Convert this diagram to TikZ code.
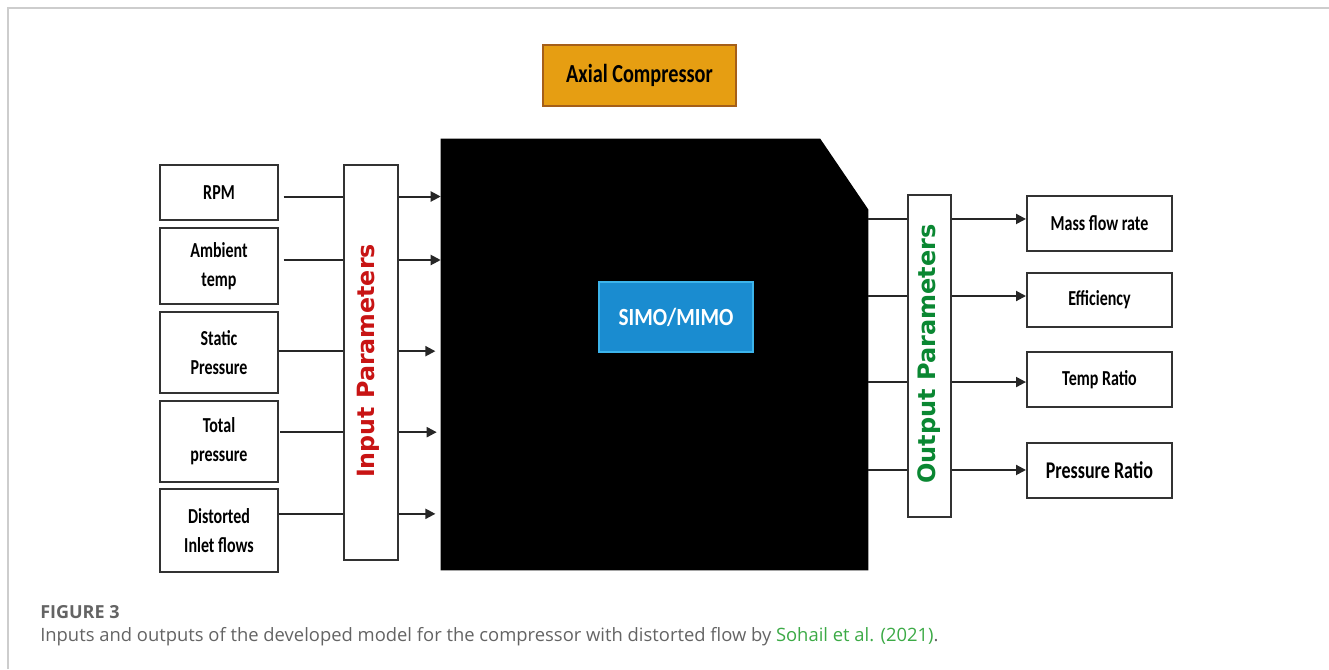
\documentclass[tikz,border=0pt]{standalone}
\usepackage{fontspec}
\usetikzlibrary{arrows.meta}
\newfontfamily\boxfont[FakeStretch=0.75]{Carlito}
\newfontfamily\titlefont[FakeStretch=0.78]{Carlito}
\newfontfamily\simofont[FakeStretch=0.86]{Carlito}
\newfontfamily\parfont{DejaVu Sans}
\newfontfamily\capfont{Open Sans}
\definecolor{boxline}{RGB}{50,50,50}
\definecolor{axfill}{RGB}{230,158,18}
\definecolor{axline}{RGB}{165,95,25}
\definecolor{simofill}{RGB}{26,140,208}
\definecolor{simoline}{RGB}{60,180,235}
\definecolor{inred}{RGB}{200,20,20}
\definecolor{outgreen}{RGB}{10,135,50}
\definecolor{capgray}{RGB}{100,100,100}
\definecolor{capgreen}{RGB}{60,170,70}
\definecolor{framegray}{RGB}{205,205,205}
\tikzset{
  pbox/.style={draw=boxline, line width=1.5pt, fill=white, inner sep=0pt, align=center,
    font=\boxfont\bfseries\fontsize{16}{22}\selectfont},
  pbar/.style={draw=boxline, line width=1.5pt, fill=white, inner sep=0pt},
  conn/.style={draw=black!85, line width=1.5pt},
  arr/.style={conn, -{Triangle[length=7.5pt,width=7.5pt]}},
}
\begin{document}
\begin{tikzpicture}[x=0.75pt,y=-0.75pt]
\useasboundingbox (0,0) rectangle (1329,669);
% frame
\draw[framegray, line width=1.2pt] (8,669) -- (8,8) -- (1329,8);

% title box
\node[draw=axline, line width=1.5pt, fill=axfill, minimum width={193*0.75pt}, minimum height={61*0.75pt},
  font=\titlefont\bfseries\fontsize{19.5}{22}\selectfont] (axial) at (639.5,75.5) {Axial Compressor};

% black model block
\node[minimum width={427*0.75pt}, minimum height={431*0.75pt}, inner sep=0pt] (blk) at (654.5,354.5) {};
\fill[black] (blk.south west) -- (blk.north west) -- ([xshift=-36pt]blk.north east)
  -- ([yshift=-53pt]blk.north east) -- (blk.south east) -- cycle;
\node[draw=simoline, line width=1.2pt, fill=simofill, text=white, minimum width={154*0.75pt}, minimum height={70*0.75pt},
  font=\simofont\bfseries\fontsize{18.5}{22}\selectfont] (simo) at (676,317) {SIMO/MIMO};

% input boxes
\node[pbox, minimum width={118*0.75pt}, minimum height={55*0.75pt}] (rpm) at (219,192.5) {RPM};
\node[pbox, minimum width={118*0.75pt}, minimum height={76*0.75pt}] (amb) at (219,266) {Ambient\\temp};
\node[pbox, minimum width={118*0.75pt}, minimum height={81*0.75pt}] (stat) at (219,352.5) {Static\\Pressure};
\node[pbox, minimum width={118*0.75pt}, minimum height={81*0.75pt}] (tot) at (219,441.5) {Total\\pressure};
\node[pbox, minimum width={118*0.75pt}, minimum height={83*0.75pt}] (dist) at (219,530.5) {Distorted\\Inlet flows};

% input bar
\node[pbar, minimum width={54*0.75pt}, minimum height={395*0.75pt}] (inbar) at (371,362.5) {};
\node[rotate=90, text=inred, font=\parfont\bfseries\fontsize{17.8}{20}\selectfont] (inlab) at (368,361) {Input Parameters};

% output bar
\node[pbar, minimum width={43*0.75pt}, minimum height={322*0.75pt}] (outbar) at (929.5,356) {};
\node[rotate=90, text=outgreen, font=\parfont\bfseries\fontsize{18}{20}\selectfont] (outlab) at (929.5,354) {Output Parameters};

% output boxes
\node[pbox, minimum width={145*0.75pt}, minimum height={55*0.75pt}] (mass) at (1099.5,223.5) {Mass flow rate};
\node[pbox, minimum width={145*0.75pt}, minimum height={54*0.75pt}] (eff) at (1099.5,300) {Efficiency};
\node[pbox, minimum width={145*0.75pt}, minimum height={55*0.75pt}] (temp) at (1099.5,379.5) {Temp Ratio};
\node[pbox, minimum width={145*0.75pt}, minimum height={55*0.75pt}, font=\boxfont\bfseries\fontsize{18}{22}\selectfont] (pres) at (1099.5,470.5) {Pressure Ratio};

% input connectors
\foreach \n/\dy/\gap/\sh in {rpm/-3/3.5/0pt, amb/4.5/3.5/0pt, stat/1/0/4pt, tot/7/1/3pt, dist/12.5/0/4pt}{
  \draw[conn] ([yshift=\dy pt, xshift=\gap pt]\n.east) -- ([yshift=\dy pt]\n.east -| inbar.west);
  \draw[arr, shorten >=\sh] ([yshift=\dy pt]\n.east -| inbar.east) -- ([yshift=\dy pt]\n.east -| blk.west);
}

% output connectors
\foreach \n/\dy in {mass/3.4, eff/3, temp/-1.9, pres/0.4}{
  \draw[conn] ([yshift=\dy pt]\n.west -| blk.east) -- ([yshift=\dy pt]\n.west -| outbar.west);
  \draw[arr] ([yshift=\dy pt]\n.west -| outbar.east) -- ([yshift=\dy pt]\n.west);
}

% caption
\node[anchor=base west, inner sep=0pt, text=capgray, font=\capfont\bfseries\fontsize{13.5}{15}\selectfont] (figlab) at (40,618) {FIGURE 3};
\node[anchor=base west, inner sep=0pt, text=capgray, font=\capfont\fontsize{13.8}{15}\selectfont] (cap) at (40,641)
  {Inputs and outputs of the developed model for the compressor with distorted flow by \textcolor{capgreen}{Sohail et al. (2021)}.};
\end{tikzpicture}
\end{document}
